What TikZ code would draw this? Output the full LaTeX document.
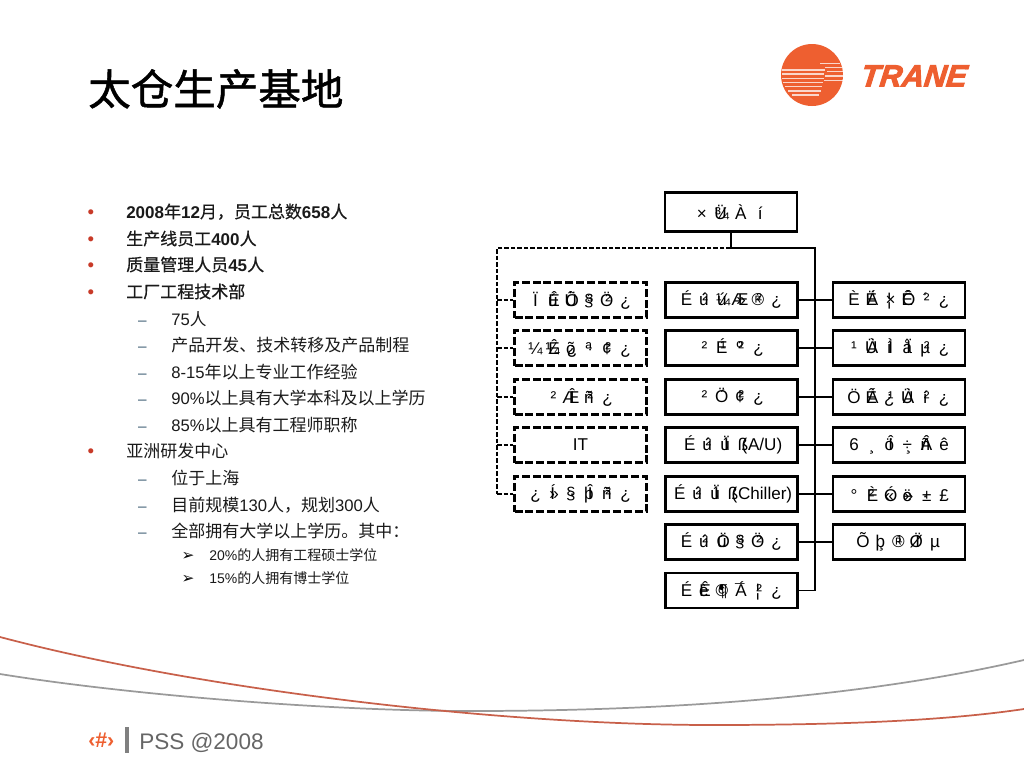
\documentclass[tikz,border=0pt]{standalone}
\usepackage{fontspec}
\setmainfont{Liberation Sans}
\newfontfamily\cjk{Noto Sans CJK SC}
\newfontfamily\cjkb[FakeBold=0.5]{Noto Sans CJK SC}
\newfontfamily\cjkt[FakeBold=1.2]{Noto Sans CJK SC}
\newfontfamily\dv{DejaVu Sans}
\newfontfamily\tranef[FakeBold=3,FakeSlant=0.12]{Liberation Sans Bold Italic}
\newcommand\C[1]{{\cjk #1}}
\newcommand\B[1]{{\cjkb #1}}
\newlength\cellw
\setlength\cellw{13.5pt}
% one cell of the garbled label: two bytes drawn over each other
\newcommand\Ov[2]{\makebox[\cellw][c]{\makebox[0pt][c]{\kern-1pt #1}\makebox[0pt][c]{\kern1pt #2}}}
\newcommand\Sg[1]{\makebox[\cellw][c]{#1}}
\definecolor{tred}{HTML}{EE5F30}
\definecolor{cred}{HTML}{C8604A}
\definecolor{bred}{HTML}{C83A28}
\definecolor{cgrey}{HTML}{9A9A9A}
\definecolor{dashc}{HTML}{3F5F75}
\definecolor{ltxt}{HTML}{1A1A1A}
\tikzset{
  x=0.75pt,y=-0.75pt,
  sbox/.style={draw=black,line width=1.8pt,minimum width=99pt,minimum height=26.5pt,inner sep=0pt,font=\fontsize{12.8pt}{14pt}\selectfont},
  dbox/.style={sbox,dash pattern=on 6pt off 2.2pt},
  conn/.style={draw=black,line width=0.95pt},
  dconn/.style={conn,line width=0.85pt,dash pattern=on 3.4pt off 1.5pt},
  ltx/.style={anchor=base west,inner sep=0pt,text=ltxt},
  la/.style={ltx,font=\fontsize{12.75pt}{14pt}\selectfont},
  lb/.style={ltx,font=\fontsize{12.5pt}{14pt}\selectfont},
  lc/.style={ltx,font=\fontsize{10.5pt}{12pt}\selectfont},
  bula/.style={anchor=base,inner sep=0pt,text=bred,font=\fontsize{14pt}{16pt}\selectfont},
  bulb/.style={anchor=base,inner sep=0pt,text=dashc,font=\fontsize{11.5pt}{14pt}\selectfont},
  bulc/.style={anchor=base,inner sep=0pt,text=black,font=\dv\fontsize{11.5pt}{12pt}\selectfont},
}
\begin{document}
\begin{tikzpicture}
\useasboundingbox (0,0) rectangle (1024,768);
\fill[white] (0,0) rectangle (1024,768);
% title
\node[anchor=base west,inner sep=0pt,font=\cjkt\fontsize{31.9pt}{34pt}\selectfont] (title) at (88,105) {太仓生产基地};
% logo
\fill[tred] (812,75) circle[radius=31];
\foreach \ya/\xa/\xb in {70/782/825,74/782/824,78.3/782/824,82.7/783/823,86.7/785/822,91/788/821,95/792/819,63.3/820/840,67.3/825/842,71.7/827/843,76/825/843,80.7/824/843}
  \draw[white,opacity=0.75,line width=0.8pt] (\xa,\ya) -- (\xb,\ya);
\node[anchor=base west,inner sep=0pt,text=tred,font=\tranef\fontsize{23pt}{25pt}\selectfont] (trane) at (860,86.5) {TRANE};
\node[anchor=base west,inner sep=0pt,text=tred,font=\fontsize{5pt}{6pt}\selectfont] (reg) at (964,70) {®};
% text list
\node[bula] (b1) at (91,218) {•};
\node[la] (t1) at (126,218) {\textbf{2008}\B{年}\textbf{12}\B{月，员工总数}\textbf{658}\B{人}};
\node[bula] (b2) at (91,245) {•};
\node[la] (t2) at (126,245) {\B{生产线员工}\textbf{400}\B{人}};
\node[bula] (b3) at (91,271) {•};
\node[la] (t3) at (126,271) {\B{质量管理人员}\textbf{45}\B{人}};
\node[bula] (b4) at (91,298) {•};
\node[la] (t4) at (126,298) {\B{工厂工程技术部}};
\node[bulb] (d1) at (142.5,325) {–};
\node[lb] (t5) at (171,325) {75\C{人}};
\node[bulb] (d2) at (142.5,351) {–};
\node[la] (t6) at (171,351) {\C{产品开发、技术转移及产品制程}};
\node[bulb] (d3) at (142.5,378) {–};
\node[lb] (t7) at (171,378) {8-15\C{\fontsize{12.75pt}{14pt}\selectfont 年以上专业工作经验}};
\node[bulb] (d4) at (142.5,404) {–};
\node[lb] (t8) at (171,404) {90\%\C{\fontsize{12.75pt}{14pt}\selectfont 以上具有大学本科及以上学历}};
\node[bulb] (d5) at (142.5,431) {–};
\node[lb] (t9) at (171,431) {85\%\C{\fontsize{12.75pt}{14pt}\selectfont 以上具有工程师职称}};
\node[bula] (b5) at (91,457) {•};
\node[la] (t10) at (126,457) {\C{亚洲研发中心}};
\node[bulb] (d6) at (142.5,484) {–};
\node[la] (t11) at (171,484) {\C{位于上海}};
\node[bulb] (d7) at (142.5,511) {–};
\node[lb] (t12) at (171,511) {\C{\fontsize{12.75pt}{14pt}\selectfont 目前规模}130\C{\fontsize{12.75pt}{14pt}\selectfont 人，规划}300\C{\fontsize{12.75pt}{14pt}\selectfont 人}};
\node[bulb] (d8) at (142.5,537) {–};
\node[la] (t13) at (171,537) {\C{全部拥有大学以上学历。其中：}};
\node[bulc] (a1) at (188,560) {➢};
\node[lc] (t14) at (209,560) {20\%\C{的人拥有工程硕士学位}};
\node[bulc] (a2) at (188,583) {➢};
\node[lc] (t15) at (209,583) {15\%\C{的人拥有博士学位}};
% organisation chart
\node[sbox,minimum height=29pt] (top) at (731,212) {\setlength\cellw{14.6pt}\Sg{×}\Ov{Ü}{¾}\Sg{À}\Sg{í}};
\node[dbox] (L1) at (580.5,300) {\Sg{Ï}\Ov{ú}{Ê}\Ov{Û}{Ö}\Ov{§}{³}\Ov{Ö}{²}\Sg{¿}};
\node[dbox] (L2) at (580.5,348) {\Sg{¼}\Ov{¼}{Ê}\Ov{õ}{¿}\Ov{ª}{·}\Ov{¢}{²}\Sg{¿}};
\node[dbox] (L3) at (580.5,397) {\Sg{²}\Ov{Æ}{Î}\Ov{ñ}{²}\Sg{¿}};
\node[dbox] (L4) at (580.5,445) {IT};
\node[dbox] (L5) at (580.5,494) {\Sg{¿}\Ov{Í}{»}\Ov{§}{·}\Ov{þ}{Î}\Ov{ñ}{²}\Sg{¿}};
\node[sbox] (M1) at (731.5,300) {\Sg{É}\Ov{ú}{²}\Ov{ú}{¼}\Ov{Æ}{»}\Ov{®}{²}\Sg{¿}};
\node[sbox] (M2) at (731.5,348) {\Sg{²}\Ov{É}{¹}\Ov{º}{²}\Sg{¿}};
\node[sbox] (M3) at (731.5,397) {\Sg{²}\Ov{Ö}{´}\Ov{¢}{²}\Sg{¿}};
\node[sbox] (M4) at (731.5,445) {\Sg{É}\Ov{ú}{²}\Ov{ú}{Ï}\Ov{ß}{(}\kern-3.5pt A/U)};
\node[sbox] (M5) at (731.5,494) {\Sg{É}\Ov{ú}{²}\Ov{ú}{Ï}\Ov{ß}{(}\kern-3.5pt Chiller)};
\node[sbox] (M6) at (731.5,542) {\Sg{É}\Ov{ú}{²}\Ov{ú}{Ö}\Ov{§}{³}\Ov{Ö}{²}\Sg{¿}};
\node[sbox] (M7) at (731.5,590.5) {\Sg{É}\Ov{è}{Ê}\Ov{©}{¶}\Ov{¯}{Á}\Ov{¦}{²}\Sg{¿}};
\node[sbox] (R1) at (899,300) {\Sg{È}\Ov{Ë}{Á}\Ov{¦}{×}\Ov{Ê}{Ô}\Ov{´}{²}\Sg{¿}};
\node[sbox] (R2) at (899,348) {\Sg{¹}\Ov{Ü}{À}\Ov{í}{Ì}\Ov{å}{Ï}\Ov{µ}{²}\Sg{¿}};
\node[sbox] (R3) at (899,397) {\Sg{Ö}\Ov{Ê}{Á}\Ov{¿}{¹}\Ov{Ü}{À}\Ov{í}{²}\Sg{¿}};
\node[sbox] (R4) at (899,445) {\Sg{6}\Sg{¸}\Ov{ö}{Î}\Ov{÷}{¸}\Ov{ñ}{Â}\Sg{ê}};
\node[sbox] (R5) at (899,494) {\Sg{°}\Ov{²}{È}\Ov{«}{Ó}\Ov{ë}{»}\Ov{·}{±}\Sg{£}};
\node[sbox] (R6) at (899,542) {\Sg{Õ}\Ov{þ}{¸}\Ov{®}{¹}\Ov{Ø}{Ï}\Sg{µ}};
\coordinate (tj) at (731,248);
\coordinate (st) at (815,248);
\coordinate (lt) at (497,248);
\coordinate (le) at (497,494);
\draw[conn] (top.south) -- (tj);
\draw[conn] (tj) -- (st) -- (st |- M7.east);
\draw[dconn] (tj) -- (lt) -- (le);
\foreach \n in {1,...,5} \draw[dconn] (lt |- L\n.west) -- (L\n.west);
\foreach \n in {1,...,6} \draw[conn] (M\n.east) -- (R\n.west);
\draw[conn] (M7.east) -- (st |- M7.east);
% curves
\draw[cgrey,line width=1.3pt] (0,674) .. controls (130,695) and (330,711) .. (470,711) .. controls (650,711) and (850,700) .. (1024,660);
\draw[cred,line width=1.3pt] (0,637) .. controls (200,690) and (500,725) .. (712,725) .. controls (850,725) and (950,720) .. (1024,709);
% footer
\node[anchor=base west,inner sep=0pt,text=tred,font=\bfseries\fontsize{16pt}{18pt}\selectfont] (num) at (88,747) {‹\#›};
\draw[gray,line width=2.6pt] (127,727) -- (127,753);
\node[anchor=base west,inner sep=0pt,text=black!60,font=\fontsize{16.9pt}{18pt}\selectfont] (pss) at (139,749) {PSS @2008};
\end{tikzpicture}
\end{document}
